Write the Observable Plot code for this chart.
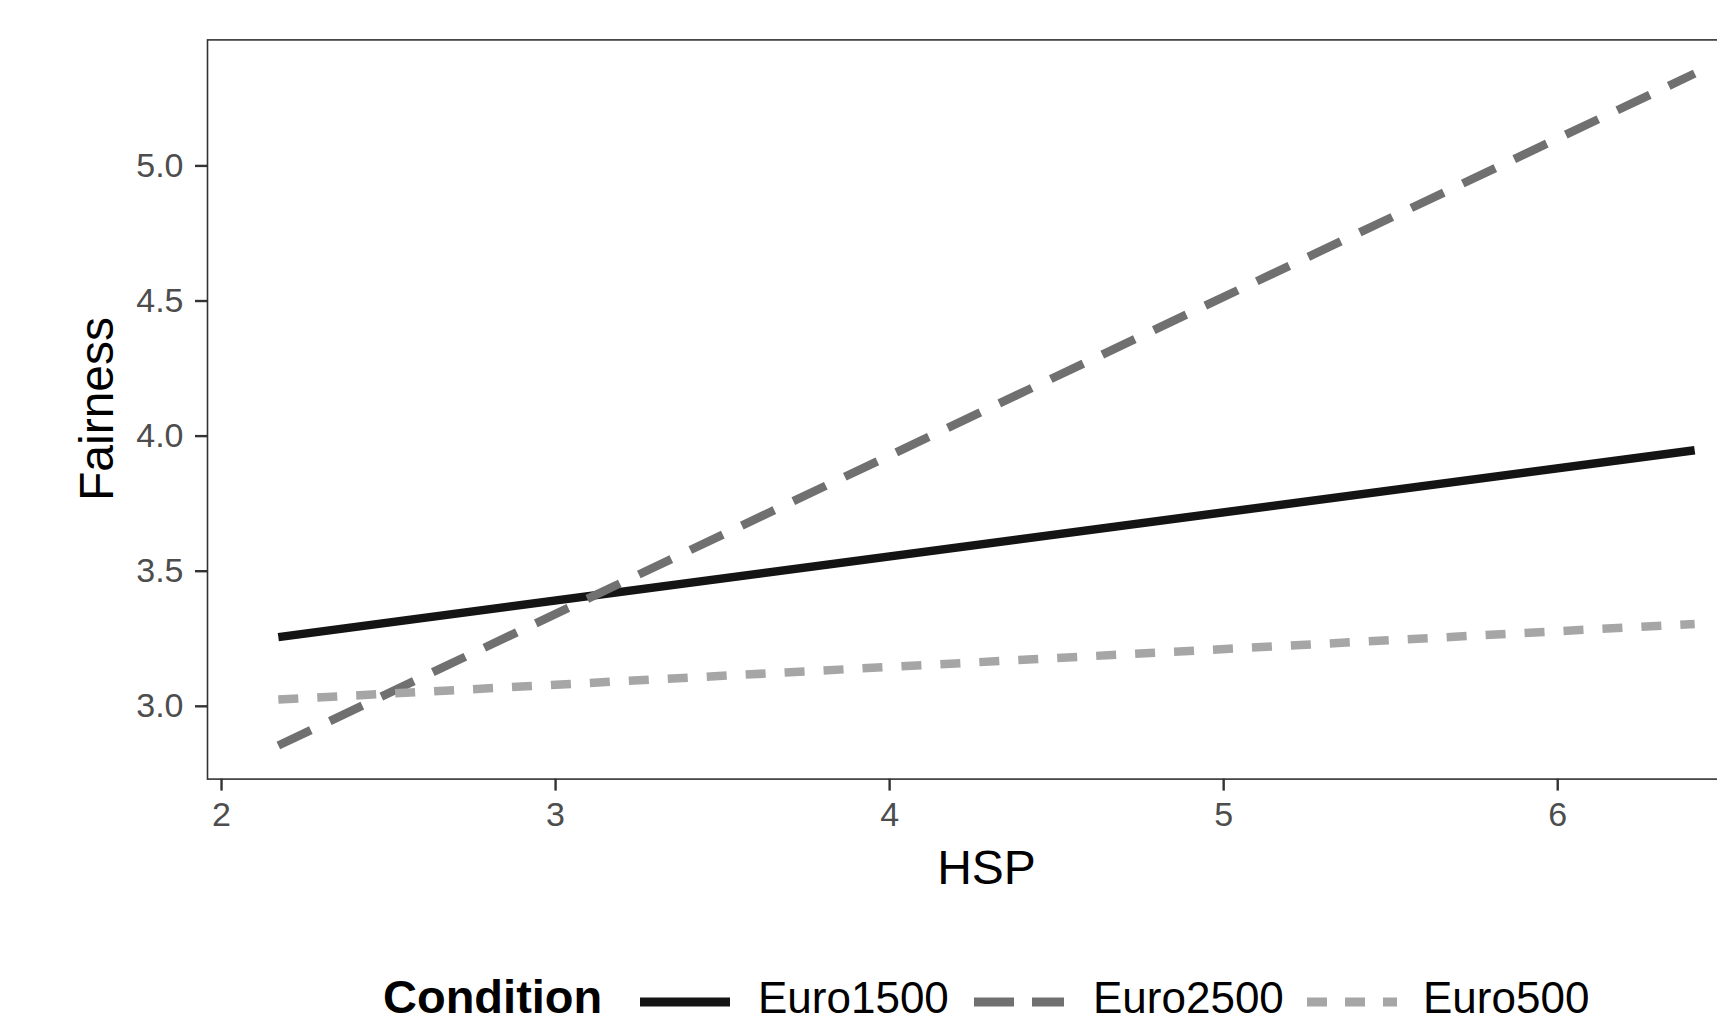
<!DOCTYPE html>
<html><head><meta charset="utf-8">
<script src="https://cdn.jsdelivr.net/npm/d3@7"></script>
<script src="https://cdn.jsdelivr.net/npm/@observablehq/plot@0.6"></script>
<style>
html,body{margin:0;padding:0;background:#fff;overflow:hidden;}
#wrap{position:relative;width:1717px;height:1024px;overflow:hidden;background:#fff;font-family:"Liberation Sans",Arial,Helvetica,sans-serif;}
#chart{position:absolute;left:0;top:0;width:1770px;}
#chart svg{max-width:none !important;width:1770px;height:940px;}
#legend{position:absolute;left:0;top:940px;}
</style></head><body>
<div id="wrap"><div id="chart"></div><svg id="legend" width="1717" height="84"></svg></div>
<script>
// ---- data ----
const conditions = ["Euro1500", "Euro2500", "Euro500"];
const hsp = [2.17, 6.41];
const euro1500 = [3.256, 3.948];
const euro2500 = [2.855, 5.342];
const euro500 = [3.025, 3.305];
const xTicks = [2, 3, 4, 5, 6];
const yTicks = [3.0, 3.5, 4.0, 4.5, 5.0];
const legendTitle = "Condition";
const xTitle = "HSP";
const yTitle = "Fairness";

// ---- styles ----
const seriesValues = {Euro1500: euro1500, Euro2500: euro2500, Euro500: euro500};
const styles = {
  Euro1500: {stroke: "#141414", dash: null, legendDash: null},
  Euro2500: {stroke: "#707070", dash: "36,21", legendDash: "40,18"},
  Euro500:  {stroke: "#a6a6a6", dash: "20,19", legendDash: "20,18"}
};
const font = "'Liberation Sans', Arial, Helvetica, sans-serif";

const rows = conditions.flatMap(c => hsp.map((x, i) => ({condition: c, hsp: x, fairness: seriesValues[c][i]})));
function expand([a, b], f = 0.05) { const d = (b - a) * f; return [a - d, b + d]; }
const xDomain = expand(d3.extent(hsp));
const yDomain = expand(d3.extent(rows, d => d.fairness));

const lineMarks = conditions.map(c => Plot.line(rows.filter(r => r.condition === c), {
  x: "hsp", y: "fairness",
  stroke: styles[c].stroke, strokeWidth: 8.5,
  strokeDasharray: styles[c].dash || undefined,
  strokeLinecap: "butt", strokeLinejoin: "miter"
}));

const W = 1770, H = 940, mL = 207, mR = 5, mT = 39.4, mB = 161.4;
const chart = Plot.plot({
  width: W, height: H,
  marginLeft: mL, marginRight: mR, marginTop: mT, marginBottom: mB,
  x: {domain: xDomain},
  y: {domain: yDomain},
  style: {fontFamily: font, background: "white", overflow: "visible", maxWidth: "none"},
  marks: [
    Plot.axisX({ticks: xTicks, tickSize: 12, tickPadding: 11, fontSize: 34, stroke: "#333", fill: "#4d4d4d", strokeWidth: 2.4, label: null, tickFormat: d3.format("d")}),
    Plot.axisY({ticks: yTicks, tickSize: 12, tickPadding: 12, fontSize: 34, stroke: "#333", fill: "#4d4d4d", strokeWidth: 2.4, label: null, tickFormat: d3.format(".1f")}),
    ...lineMarks,
    Plot.frame({stroke: "#333", strokeWidth: 1.6}),
    Plot.text([xTitle], {text: d => d, frameAnchor: "bottom", dy: 104.5, lineAnchor: "bottom", fontSize: 48, fill: "#000"})
  ]
});
document.getElementById("chart").appendChild(chart);

// y-axis title (rotated), centred on the panel
d3.select(chart).append("text")
  .attr("transform", `translate(113,${(mT + (H - mB)) / 2}) rotate(-90)`)
  .attr("text-anchor", "middle").attr("font-family", font).attr("font-size", 48)
  .attr("fill", "#000").text(yTitle);

// ---- legend ----
const leg = d3.select("#legend");
const baseline = 73, keyY = 62;
leg.append("text").attr("x", 383).attr("y", baseline).attr("font-family", font)
  .attr("font-size", 47).attr("font-weight", "bold").attr("fill", "#000").text(legendTitle);
const keyX = [640, 974, 1307];
const keyW = 90;
const labelX = [758, 1093, 1423];
conditions.forEach((c, i) => {
  leg.append("line").attr("x1", keyX[i]).attr("x2", keyX[i] + keyW).attr("y1", keyY).attr("y2", keyY)
    .attr("stroke", styles[c].stroke).attr("stroke-width", 9)
    .attr("stroke-dasharray", styles[c].legendDash).attr("stroke-linecap", "butt");
  leg.append("text").attr("x", labelX[i]).attr("y", baseline).attr("font-family", font)
    .attr("font-size", 44).attr("fill", "#000").text(c);
});
</script>
</body></html>
